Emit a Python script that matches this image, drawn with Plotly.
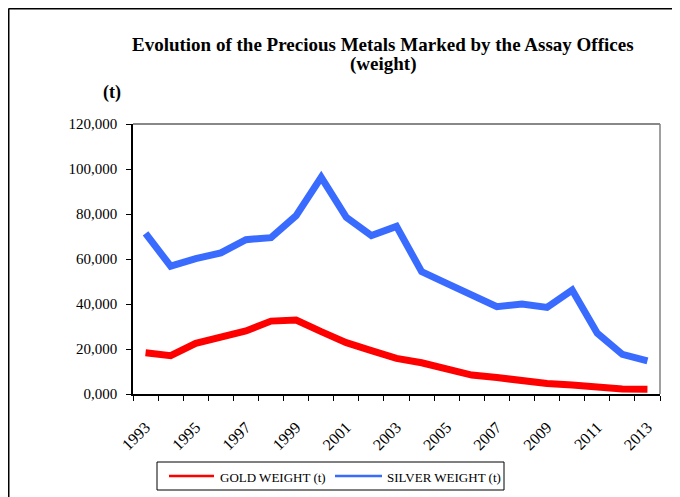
import plotly.graph_objects as go

years = list(range(1993, 2014))
gold_t = [18.3, 17.0, 22.5, 25.1, 28.0, 32.4, 32.9, 27.7, 22.8, 19.3, 15.8,
          13.9, 11.1, 8.4, 7.3, 5.8, 4.7, 4.0, 3.0, 2.2, 2.1]
silver_t = [71.4, 56.8, 60.2, 62.7, 68.6, 69.5, 79.3, 96.3, 78.5, 70.4, 74.5,
            54.4, 49.2, 44.0, 38.8, 40.0, 38.5, 46.2, 27.0, 17.6, 14.7]
x_tick_labels = [str(y) for y in range(1993, 2014, 2)]
y_ticks = [0, 20, 40, 60, 80, 100, 120]
series_names = ["GOLD WEIGHT (t)", "SILVER WEIGHT (t)"]

FONT = "Liberation Serif"
RED, BLUE = "#FF0000", "#3A6BFF"

fig = go.Figure()
fig.add_trace(go.Scatter(x=years, y=gold_t, mode="lines", name=series_names[0],
                         showlegend=False, line=dict(color=RED, width=7)))
fig.add_trace(go.Scatter(x=years, y=silver_t, mode="lines", name=series_names[1],
                         showlegend=False, line=dict(color=BLUE, width=7)))

OFF = 8  # page body margin offset
W, H = 680, 497
# plot area in reference page pixels
PL, PR, PT, PB = 133, 660, 124, 394
L, T = PL - OFF, PT - OFF
R = W - (PR - OFF)
B = H - (PB - OFF)
pw, ph = W - L - R, H - T - B

def px(xp):
    return (xp - OFF - L) / pw

def py(yp):
    return (H - B - (yp - OFF)) / ph

def pline(x0, y0, x1, y1, color, width):
    return dict(type="line", xref="paper", yref="paper", x0=px(x0), x1=px(x1),
                y0=py(y0), y1=py(y1), line=dict(color=color, width=width))

def ptext(text, x, y, size, xanchor="center"):
    return dict(text=text, x=px(x), y=py(y), xref="paper", yref="paper",
                showarrow=False, font=dict(family=FONT, size=size, color="black"),
                xanchor=xanchor, yanchor="middle")

# manual legend (reference-style long thin legend lines)
LEG_Y = 476
legend_shapes = [
    dict(type="rect", xref="paper", yref="paper", x0=px(157), x1=px(504),
         y0=py(462), y1=py(490), line=dict(color="black", width=1), fillcolor="white"),
    pline(169, LEG_Y, 214, LEG_Y, RED, 2.5),
    pline(335, LEG_Y, 382, LEG_Y, BLUE, 2.5),
]
legend_texts = [
    ptext(series_names[0], 218, LEG_Y + 1, 13, "left"),
    ptext(series_names[1], 385, LEG_Y + 1, 13, "left"),
]

fig.update_layout(
    width=W, height=H,
    margin=dict(l=L, r=R, t=T, b=B),
    paper_bgcolor="white", plot_bgcolor="white",
    separators=",.",
    font=dict(family=FONT, color="black", size=15),
    showlegend=False,
    xaxis=dict(range=[1992.5, 2013.5], tickmode="array",
               tickvals=list(range(1993, 2014, 2)), ticktext=x_tick_labels,
               tickangle=-45, ticks="", showgrid=False, zeroline=False,
               showline=True, linecolor="black", linewidth=1.5,
               ticklabelstandoff=16,
               tickfont=dict(family=FONT, size=16),
               minor=dict(ticks="outside", tickmode="linear", tick0=1992.5, dtick=1,
                          ticklen=5, tickcolor="black", showgrid=False)),
    yaxis=dict(range=[0, 120], tickmode="array", tickvals=y_ticks, tickformat=".3f",
               ticks="outside", ticklen=5, tickcolor="black", showgrid=False,
               zeroline=False, showline=True, linecolor="black", linewidth=1.5,
               ticklabelstandoff=6,
               tickfont=dict(family=FONT, size=15)),
    annotations=[
        ptext("<b>Evolution of the Precious Metals Marked by the Assay Offices</b>", 383, 44, 19),
        ptext("<b>(weight)</b>", 383, 64, 19),
        ptext("<b>(t)</b>", 112, 93, 18),
    ] + legend_texts,
    shapes=[
        dict(type="line", xref="paper", yref="paper", x0=0, x1=1, y0=1, y1=1,
             line=dict(color="#606060", width=1.5)),
        dict(type="line", xref="paper", yref="paper", x0=1, x1=1, y0=0, y1=1,
             line=dict(color="#808080", width=1.5)),
        pline(8.6, 8.6, 700, 8.6, "black", 1.8),
        pline(8.6, 8.6, 8.6, 520, "black", 1.8),
    ] + legend_shapes,
)

fig.write_html("out.html")
